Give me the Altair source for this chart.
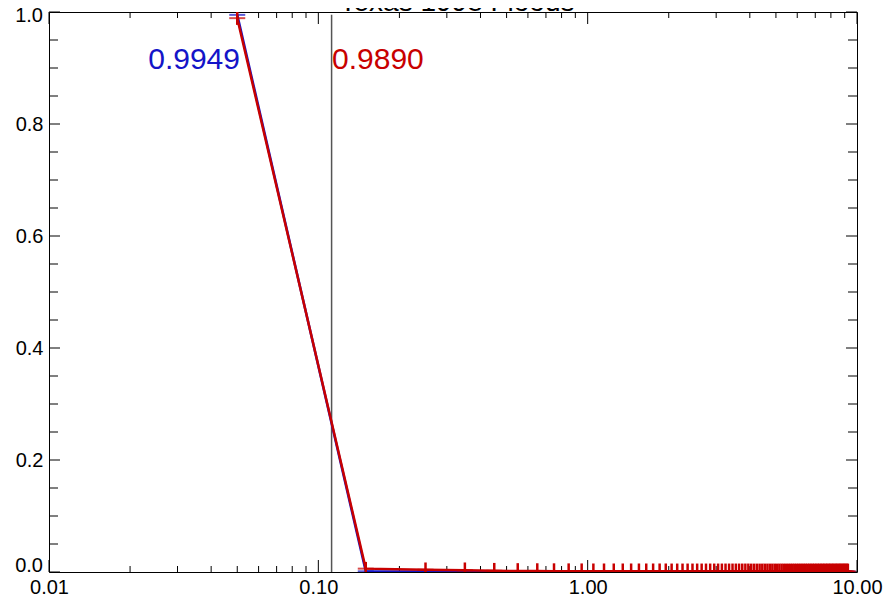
import altair as alt
import pandas as pd

title_text = "Texas 1998 Floods"

x_vals = [
    0.05, 0.15, 0.25, 0.35, 0.45, 0.55, 0.65, 0.75, 0.85, 0.95,
    1.05, 1.15, 1.25, 1.35, 1.45, 1.55, 1.65, 1.75, 1.85, 1.95,
    2.05, 2.15, 2.25, 2.35, 2.45, 2.55, 2.65, 2.75, 2.85, 2.95,
    3.05, 3.15, 3.25, 3.35, 3.45, 3.55, 3.65, 3.75, 3.85, 3.95,
    4.05, 4.15, 4.25, 4.35, 4.45, 4.55, 4.65, 4.75, 4.85, 4.95,
    5.05, 5.15, 5.25, 5.35, 5.45, 5.55, 5.65, 5.75, 5.85, 5.95,
    6.05, 6.15, 6.25, 6.35, 6.45, 6.55, 6.65, 6.75, 6.85, 6.95,
    7.05, 7.15, 7.25, 7.35, 7.45, 7.55, 7.65, 7.75, 7.85, 7.95,
    8.05, 8.15, 8.25, 8.35, 8.45, 8.55, 8.65, 8.75, 8.85, 8.95,
    9.05, 9.15, 9.25,
]

blue_vals = [
    0.9949, 0.0012, 0.0008, 0.0006, 0.0005, 0.0005, 0.0005, 0.0005, 0.0005, 0.0005,
    0.0005, 0.0005, 0.0005, 0.0005, 0.0005, 0.0005, 0.0005, 0.0005, 0.0005, 0.0005,
    0.0005, 0.0005, 0.0005, 0.0005, 0.0005, 0.0005, 0.0005, 0.0005, 0.0005, 0.0005,
    0.0005, 0.0005, 0.0005, 0.0005, 0.0005, 0.0005, 0.0005, 0.0005, 0.0005, 0.0005,
    0.0005, 0.0005, 0.0005, 0.0005, 0.0005, 0.0005, 0.0005, 0.0005, 0.0005, 0.0005,
    0.0005, 0.0005, 0.0005, 0.0005, 0.0005, 0.0005, 0.0005, 0.0005, 0.0005, 0.0005,
    0.0005, 0.0005, 0.0005, 0.0005, 0.0005, 0.0005, 0.0005, 0.0005, 0.0005, 0.0005,
    0.0005, 0.0005, 0.0005, 0.0005, 0.0005, 0.0005, 0.0005, 0.0005, 0.0005, 0.0005,
    0.0005, 0.0005, 0.0005, 0.0005, 0.0005, 0.0005, 0.0005, 0.0005, 0.0005, 0.0005,
    0.0005, 0.0005, 0.0005,
]

red_vals = [
    0.9890, 0.0060, 0.0040, 0.0030, 0.0022, 0.0018, 0.0016, 0.0015, 0.0014, 0.0013,
    0.0012, 0.0012, 0.0012, 0.0012, 0.0012, 0.0012, 0.0012, 0.0012, 0.0012, 0.0012,
    0.0011, 0.0011, 0.0011, 0.0011, 0.0011, 0.0011, 0.0011, 0.0011, 0.0011, 0.0011,
    0.0011, 0.0011, 0.0011, 0.0011, 0.0011, 0.0011, 0.0011, 0.0011, 0.0011, 0.0011,
    0.0010, 0.0010, 0.0010, 0.0010, 0.0010, 0.0010, 0.0010, 0.0010, 0.0010, 0.0010,
    0.0010, 0.0010, 0.0010, 0.0010, 0.0010, 0.0010, 0.0010, 0.0010, 0.0010, 0.0010,
    0.0010, 0.0010, 0.0010, 0.0010, 0.0010, 0.0010, 0.0010, 0.0010, 0.0010, 0.0010,
    0.0010, 0.0010, 0.0010, 0.0010, 0.0010, 0.0010, 0.0010, 0.0010, 0.0010, 0.0010,
    0.0010, 0.0010, 0.0010, 0.0010, 0.0010, 0.0010, 0.0010, 0.0010, 0.0010, 0.0010,
    0.0010, 0.0010, 0.0010,
]

red_err = [
    0.012, 0.012, 0.013, 0.014, 0.014, 0.014, 0.014, 0.014, 0.014, 0.014,
    0.014, 0.014, 0.014, 0.014, 0.014, 0.014, 0.014, 0.014, 0.014, 0.014,
    0.014, 0.014, 0.014, 0.014, 0.014, 0.014, 0.014, 0.014, 0.014, 0.014,
    0.014, 0.014, 0.014, 0.014, 0.014, 0.014, 0.014, 0.014, 0.014, 0.014,
    0.014, 0.014, 0.014, 0.014, 0.014, 0.014, 0.014, 0.014, 0.014, 0.014,
    0.014, 0.014, 0.014, 0.014, 0.014, 0.014, 0.014, 0.014, 0.014, 0.014,
    0.014, 0.014, 0.014, 0.014, 0.014, 0.014, 0.014, 0.014, 0.014, 0.014,
    0.014, 0.014, 0.014, 0.014, 0.014, 0.014, 0.014, 0.014, 0.014, 0.014,
    0.014, 0.014, 0.014, 0.014, 0.014, 0.014, 0.014, 0.014, 0.014, 0.014,
    0.014, 0.014, 0.014,
]

blue_label = ["0.9949"]
red_label = ["0.9890"]
marker_x = [0.112]
marker_top = [0.995]

x_major = [0.01, 0.1, 1.0, 10.0]
x_minor = [0.02, 0.03, 0.04, 0.05, 0.06, 0.07, 0.08, 0.09,
           0.2, 0.3, 0.4, 0.5, 0.6, 0.7, 0.8, 0.9,
           2.0, 3.0, 4.0, 5.0, 6.0, 7.0, 8.0, 9.0]
y_major = [0.0, 0.2, 0.4, 0.6, 0.8, 1.0]
y_label_mid = [0.2, 0.4, 0.6, 0.8]
y_label_bottom = [0.0]
y_label_top = [1.0]
y_minor = [0.05, 0.1, 0.15, 0.25, 0.3, 0.35, 0.45, 0.5, 0.55,
           0.65, 0.7, 0.75, 0.85, 0.9, 0.95]

W, H = 808, 560
BLUE = "#1414c8"
RED = "#c80000"
FONT = "Liberation Sans"

df = pd.DataFrame({"x": x_vals, "blue": blue_vals, "red": red_vals, "err": red_err})
df["lo"] = df["red"] - df["err"]
df["hi"] = df["red"] + df["err"]

xscale = alt.Scale(type="log", domain=[0.01, 10], nice=False)
yscale = alt.Scale(domain=[0, 1], nice=False, zero=False)

xaxis = alt.Axis(values=x_major, format=".2f", ticks=False, tickSize=0, domain=False,
                 grid=False, labelPadding=5, labelFontSize=20, labelFont=FONT,
                 labelColor="black", labelOverlap=False, labelFlush=False)
yaxis = alt.Axis(values=y_label_mid, format=".1f", ticks=False, tickSize=0, domain=False,
                 grid=False, labelPadding=6, labelFontSize=20, labelFont=FONT,
                 labelColor="black", labelOverlap=False, labelFlush=False)


def X(field):
    return alt.X(f"{field}:Q", scale=xscale, axis=xaxis, title=None)


def Y(field):
    return alt.Y(f"{field}:Q", scale=yscale, axis=yaxis, title=None)


base = alt.Chart(df)

blue_line = base.mark_line(color=BLUE, strokeWidth=2.5, clip=True).encode(x=X("x"), y=Y("blue"))
blue_dash = base.mark_tick(color=BLUE, orient="horizontal", size=16, thickness=2, clip=True).encode(
    x=X("x"), y=Y("blue"))
red_line = base.mark_line(color=RED, strokeWidth=2.5, clip=True).encode(x=X("x"), y=Y("red"))
red_bars = base.mark_rule(color=RED, strokeWidth=2.5, clip=True).encode(
    x=X("x"), y=Y("lo"), y2="hi")
red_dash = base.mark_tick(color=RED, orient="horizontal", size=16, thickness=2, clip=True).encode(
    x=X("x"), y=Y("red"))

vline = alt.Chart(pd.DataFrame({"x": marker_x, "top": marker_top})).mark_rule(
    color="#555555", strokeWidth=1.5).encode(x=X("x"), y=Y("top"), y2=alt.value(H))

xmaj_df = pd.DataFrame({"v": x_major})
xmin_df = pd.DataFrame({"v": x_minor})
ymaj_df = pd.DataFrame({"v": y_major})
ymin_df = pd.DataFrame({"v": y_minor})

tick_style = dict(color="black", strokeWidth=1)
xt1 = alt.Chart(xmaj_df).mark_rule(**tick_style).encode(x=X("v"), y=alt.value(H), y2=alt.value(H - 12))
xt2 = alt.Chart(xmaj_df).mark_rule(**tick_style).encode(x=X("v"), y=alt.value(0), y2=alt.value(12))
xt3 = alt.Chart(xmin_df).mark_rule(**tick_style).encode(x=X("v"), y=alt.value(H), y2=alt.value(H - 6))
xt4 = alt.Chart(xmin_df).mark_rule(**tick_style).encode(x=X("v"), y=alt.value(0), y2=alt.value(6))
yt1 = alt.Chart(ymaj_df).mark_rule(**tick_style).encode(y=Y("v"), x=alt.value(0), x2=alt.value(11))
yt2 = alt.Chart(ymaj_df).mark_rule(**tick_style).encode(y=Y("v"), x=alt.value(W), x2=alt.value(W - 11))
yt3 = alt.Chart(ymin_df).mark_rule(**tick_style).encode(y=Y("v"), x=alt.value(0), x2=alt.value(9))
yt4 = alt.Chart(ymin_df).mark_rule(**tick_style).encode(y=Y("v"), x=alt.value(W), x2=alt.value(W - 9))

ylab_style = dict(color="black", fontSize=20, font=FONT, align="right", baseline="middle")
ylab_bottom = alt.Chart(pd.DataFrame({"v": y_label_bottom})).mark_text(dy=-6, **ylab_style).encode(
    y=Y("v"), x=alt.value(-6), text=alt.Text("v:Q", format=".1f"))
ylab_top = alt.Chart(pd.DataFrame({"v": y_label_top})).mark_text(dy=4, **ylab_style).encode(
    y=Y("v"), x=alt.value(-6), text=alt.Text("v:Q", format=".1f"))

blue_text = alt.Chart(pd.DataFrame({"t": blue_label})).mark_text(
    color=BLUE, fontSize=30, font=FONT, align="right", baseline="middle").encode(
    text="t:N", x=alt.value(191), y=alt.value(48))
red_text = alt.Chart(pd.DataFrame({"t": red_label})).mark_text(
    color=RED, fontSize=30, font=FONT, align="left", baseline="middle").encode(
    text="t:N", x=alt.value(283), y=alt.value(48))
title = alt.Chart(pd.DataFrame({"t": [title_text]})).mark_text(
    color="black", fontSize=28, font=FONT, align="center", baseline="alphabetic").encode(
    text="t:N", x=alt.value(408), y=alt.value(-1))

chart = alt.layer(
    xt1, xt2, xt3, xt4, yt1, yt2, yt3, yt4,
    vline, blue_line, blue_dash, red_line, red_bars, red_dash,
    ylab_bottom, ylab_top, blue_text, red_text, title,
).properties(
    width=W, height=H,
    autosize=alt.AutoSizeParams(type="none"),
    padding={"left": 41, "top": 4, "right": 26, "bottom": 25},
    background="white",
).configure_view(stroke="black", strokeWidth=1)

chart.save("out.html", embed_options={"renderer": "svg", "actions": False})
